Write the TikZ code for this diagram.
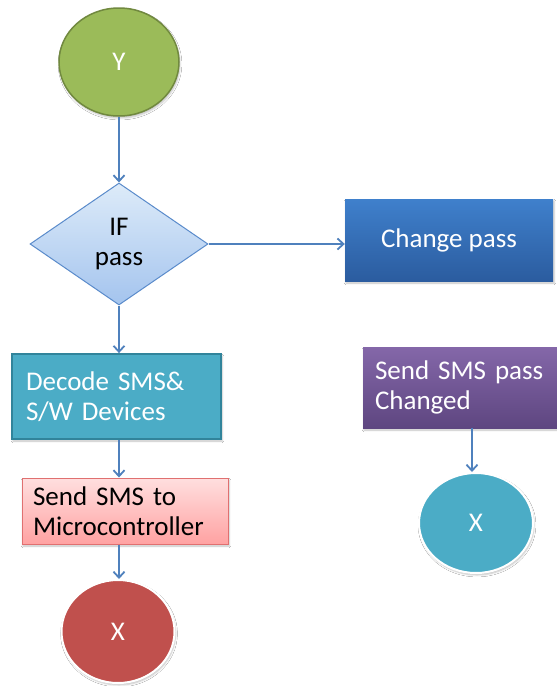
\documentclass[tikz,border=0pt]{standalone}
\usepackage{fontspec}
\setmainfont{Carlito}
\usetikzlibrary{shapes.geometric,arrows.meta,shadows.blur}

\definecolor{flowline}{HTML}{4F81BD}
\definecolor{greenfill}{HTML}{9BBB59}
\definecolor{greenedge}{HTML}{71893F}
\definecolor{diatop}{HTML}{DDEBF9}
\definecolor{diabot}{HTML}{A4C4EE}
\definecolor{diaedge}{HTML}{5A8BCB}
\definecolor{bluetop}{HTML}{3F80CC}
\definecolor{bluebot}{HTML}{2B5C9F}
\definecolor{tealfill}{HTML}{4BACC6}
\definecolor{tealedge}{HTML}{31849B}
\definecolor{pinktop}{HTML}{FFDFDF}
\definecolor{pinkbot}{HTML}{FFA2A2}
\definecolor{pinkedge}{HTML}{E07070}
\definecolor{redfill}{HTML}{C0504D}
\definecolor{purptop}{HTML}{8467A9}
\definecolor{purpbot}{HTML}{5E4680}

\tikzset{
  txt/.style={font=\fontsize{27}{30}\selectfont},
  soft/.style={blur shadow={shadow xshift=1pt,shadow yshift=-2pt,shadow blur steps=4,shadow opacity=25}},
  terminal/.style={ellipse,inner sep=0pt,txt,text=white,soft},
  box/.style={rectangle,inner sep=0pt,txt,soft},
  flow/.style={draw=flowline,line width=1.8pt,-{Straight Barb[length=6pt,width=11pt,line width=1.8pt]}}
}

\begin{document}
\begin{tikzpicture}[x=1pt,y=-1pt]
\useasboundingbox[fill=white] (0,0) rectangle (557,686);

% start and end terminals
\node[terminal,fill=greenfill,draw=greenedge,line width=1.5pt,
      minimum width=120pt,minimum height=108pt] (start) at (119,62) {Y};
\node[terminal,fill=redfill,draw=white,line width=2pt,
      minimum width=113pt,minimum height=103pt] (endA) at (118,631.5) {X};
\node[terminal,fill=tealfill,draw=white,line width=2pt,
      minimum width=114pt,minimum height=100pt] (endB) at (476,523) {X};

% decision
\node[diamond,inner sep=0pt,txt,align=center,top color=diatop,bottom color=diabot,
      draw=diaedge,line width=1pt,minimum width=178pt,minimum height=122pt]
      (dec) at (119,244) {IF\\pass};

% process boxes
\node[box,text=white,top color=bluetop,bottom color=bluebot,
      minimum width=208pt,minimum height=82pt] (chg) at (449,240) {Change pass};

\node[box,text=white,fill=tealfill,draw=tealedge,line width=1.8pt,
      minimum width=209pt,minimum height=85pt,
      align=left,text width=181pt] (decode) at (116.5,396.5)
      {Decode SMS\&\\S/W Devices};

\node[box,text=black,top color=pinktop,bottom color=pinkbot,draw=pinkedge,line width=1pt,
      minimum width=206pt,minimum height=66pt,
      align=left,text width=184pt] (send) at (125,511)
      {Send SMS to\\Microcontroller};

\node[box,text=white,top color=purptop,bottom color=purpbot,
      minimum width=194pt,minimum height=81pt,
      align=left,text width=170pt] (notify) at (460,387.5)
      {Send SMS pass\\Changed};

% connectors
\draw[flow] (start.south) -- (dec.north);
\draw[flow] (dec.east) -- (dec.east -| chg.west);
\draw[flow] (dec.south) -- (dec.south |- decode.north);
\draw[flow] (dec.south |- decode.south) -- (dec.south |- send.north);
\draw[flow] (dec.south |- send.south) -- (dec.south |- endA.north);
\path (endB.north |- notify.south) ++(-4,0) coordinate (nb);
\draw[flow] (nb) -- (nb |- endB.north);
\end{tikzpicture}
\end{document}
